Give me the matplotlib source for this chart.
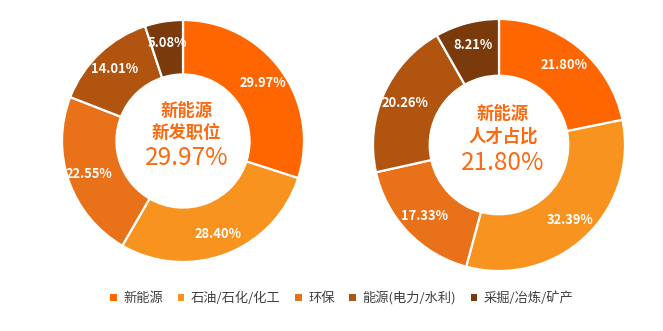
import matplotlib
matplotlib.use("Agg")
import matplotlib.pyplot as plt
from matplotlib.patches import Patch

plt.rcParams['font.family'] = ['Noto Sans CJK SC', 'DejaVu Sans']

categories = ["新能源", "石油/石化/化工", "环保", "能源(电力/水利)", "采掘/冶炼/矿产"]
jobs_share = [29.97, 28.40, 22.55, 14.01, 5.08]
talent_share = [21.80, 32.39, 17.33, 20.26, 8.21]
colors = ["#FF6600", "#F7931E", "#E9711A", "#B05410", "#7A3A0C"]
center_color = "#FA6A12"

W, H = 663, 331
fig = plt.figure(figsize=(W / 100, H / 100), dpi=100)


def donut(cx, cy, r, values, title1, title2):
    # axes placed in pixel coords, pie fills [-1, 1]
    ax = fig.add_axes([(cx - r) / W, (H - cy - r) / H, 2 * r / W, 2 * r / H])
    ax.pie(values, colors=colors, startangle=90, counterclock=False,
           radius=1, wedgeprops=dict(width=0.45, edgecolor="white", linewidth=1.6),
           autopct=lambda p: f"{p:.2f}%", pctdistance=0.82,
           textprops=dict(color="white", fontsize=9.3, fontweight="bold"))
    ax.set_xlim(-1, 1)
    ax.set_ylim(-1, 1)
    ax.set_aspect("equal")
    ax.axis("off")
    ax.text(0.03, 0.25, title1, ha="center", va="center", fontsize=12.5,
            fontweight="bold", color=center_color)
    ax.text(0.03, 0.07, title2, ha="center", va="center", fontsize=12.5,
            fontweight="bold", color=center_color)
    ax.text(0.03, -0.14, f"{values[0]:.2f}%", ha="center", va="center",
            fontsize=17.5, color=center_color)
    return ax


donut(183, 141, 121, jobs_share, "新能源", "新发职位")
donut(499, 145, 126, talent_share, "新能源", "人才占比")

handles = [Patch(facecolor=c, edgecolor="none") for c in colors]
fig.legend(handles, categories, loc="center", bbox_to_anchor=(342 / W, 1 - 298 / H),
           ncol=5, frameon=False, fontsize=9.5, handlelength=0.5, handleheight=0.5,
           handletextpad=0.5, columnspacing=1.1, labelcolor="#404040")

fig.savefig("out.png", dpi=100)
